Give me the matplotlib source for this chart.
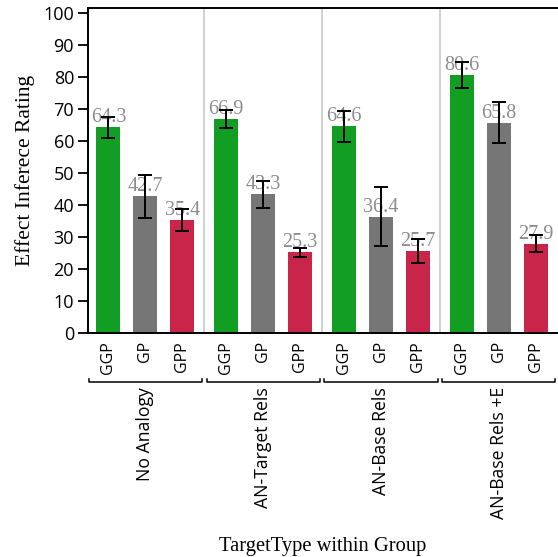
import numpy as np
import matplotlib
matplotlib.use("Agg")
import matplotlib.pyplot as plt
from matplotlib.transforms import blended_transform_factory

# dados por grupo (GGP, GP, GPP)
groups = ["No Analogy", "AN-Target Rels", "AN-Base Rels", "AN-Base Rels +E"]
target_types = ["GGP", "GP", "GPP"]
means = [
    [64.3, 42.7, 35.4],
    [66.9, 43.3, 25.3],
    [64.6, 36.4, 25.7],
    [80.6, 65.8, 27.9],
]
errors = [
    [3.2, 6.7, 3.5],
    [2.9, 4.2, 1.4],
    [4.8, 9.1, 3.8],
    [4.0, 6.5, 2.7],
]
colors = ["#119e22", "#767676", "#c9244a"]

group_step = 3.19   # distancia entre o inicio de cada grupo
serif = "Liberation Serif"
sans = "Open Sans"

fig = plt.figure(figsize=(5.58, 5.57), dpi=100)
ax = fig.add_axes([0.1577, 0.4022, 0.8423, 0.5834])

xpos = []
xlabels = []
for g, grp in enumerate(groups):
    for j, tt in enumerate(target_types):
        x = g * group_step + j
        ax.bar(x, means[g][j], width=0.65, color=colors[j], zorder=2)
        ax.text(x, means[g][j], f"{means[g][j]}", ha="center", va="bottom",
                color="#8c8c8c", fontsize=14.5, family=serif, zorder=3)
        ax.errorbar(x, means[g][j], yerr=errors[g][j], color="black",
                    capsize=5, elinewidth=1.4, capthick=1.4, zorder=4)
        xpos.append(x)
        xlabels.append(tt)
    # linha divisoria entre grupos
    if g > 0:
        ax.axvline(g * group_step - 0.595, color="#c8c8c8", lw=1.2, zorder=1)

ax.set_xlim(-0.55, 3 * group_step + 2.6)
ax.set_ylim(0, 101.6)
ax.set_yticks(np.arange(0, 101, 10))
ax.set_xticks(xpos)
ax.set_xticklabels(xlabels, rotation=90, family=sans, fontsize=11.5)
ax.tick_params(axis="x", length=0, pad=6)
ax.tick_params(axis="y", length=7.5, width=1.3, pad=2.5, labelsize=13)
for lab in ax.get_yticklabels():
    lab.set_family(sans)

ax.spines["right"].set_visible(False)
for s in ["left", "bottom", "top"]:
    ax.spines[s].set_linewidth(1.4)

# chaves e nomes dos grupos abaixo dos rotulos
trans = blended_transform_factory(ax.transData, ax.transAxes)
for g, grp in enumerate(groups):
    c = g * group_step + 1
    ax.plot([c - 1.53, c - 1.53, c + 1.53, c + 1.53],
            [-0.142, -0.150, -0.150, -0.142], color="black", lw=1.1,
            transform=trans, clip_on=False)
    ax.text(c, -0.166, grp, rotation=90, ha="center", va="top",
            family=sans, fontsize=12.7, transform=trans)

ax.text(-0.134, 0.5, "Effect Inferece Rating", rotation=90, ha="center",
        va="center", family=serif, fontsize=15.5, transform=ax.transAxes)
ax.text(0.5, -0.658, "TargetType within Group", ha="center", va="center",
        family=serif, fontsize=14.8, transform=ax.transAxes)

fig.savefig("out.png", dpi=100)
